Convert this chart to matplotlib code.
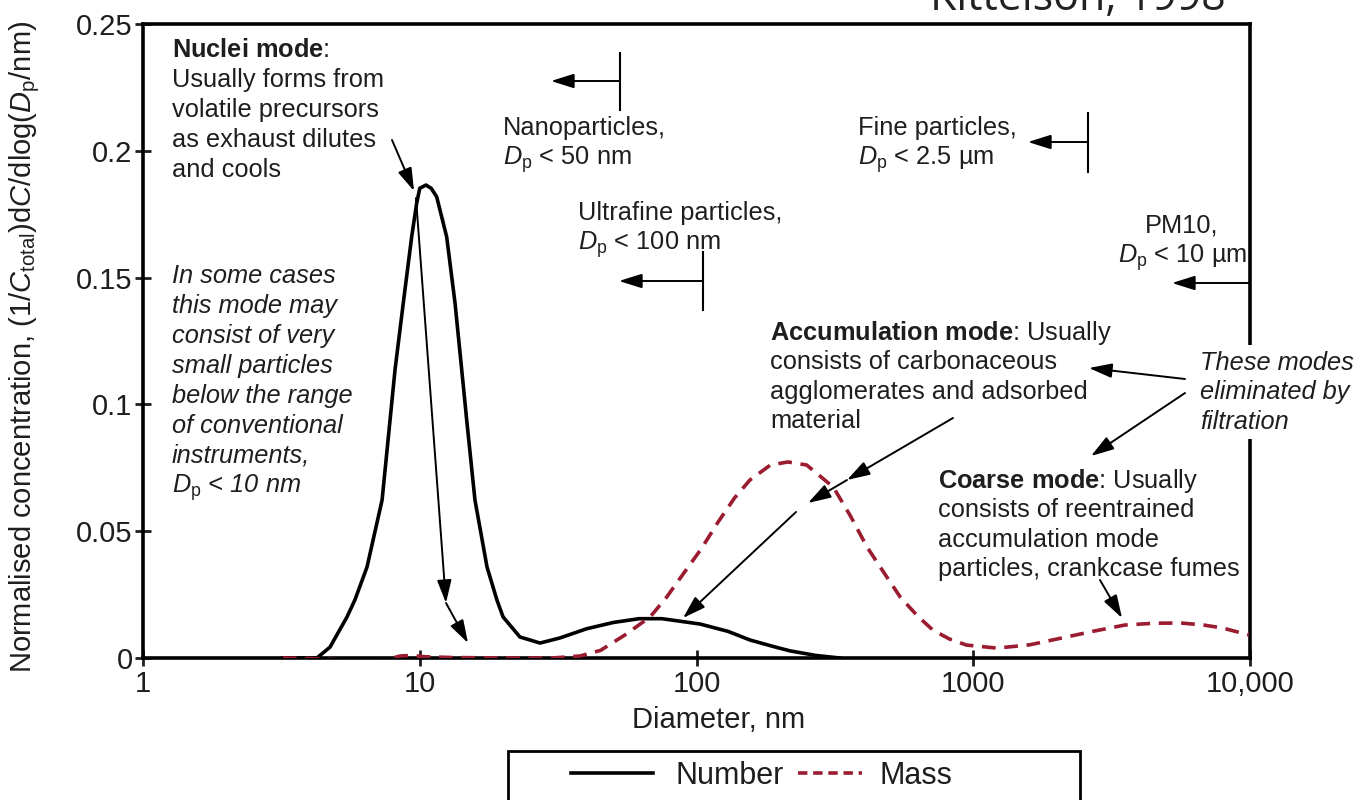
import matplotlib
matplotlib.use('Agg')
import matplotlib.pyplot as plt
from matplotlib.lines import Line2D
from matplotlib.patches import Rectangle

plt.rcParams['font.family'] = ['Liberation Sans', 'DejaVu Sans']
plt.rcParams['mathtext.fontset'] = 'custom'
plt.rcParams['mathtext.rm'] = 'Liberation Sans'
plt.rcParams['mathtext.it'] = 'Liberation Sans:italic'
plt.rcParams['mathtext.bf'] = 'Liberation Sans:bold'

# values (diameter in nm, normalised concentration)
number_d = [3.2, 4.25, 4.74, 5.46, 5.83, 6.45, 7.31, 7.81, 8.14, 8.72, 9.35, 9.75, 10.0,
            10.53, 11.0, 11.51, 12.51, 13.41, 14.18, 14.78, 15.83, 17.5, 19.0, 20.0, 23.0,
            27.2, 32.1, 40, 50, 62, 75, 103, 130, 156, 190, 218, 270, 330]
number_c = [0, 0, 0.0043, 0.0162, 0.0229, 0.0359, 0.0623, 0.0938, 0.1136, 0.1400, 0.1661,
            0.1794, 0.1852, 0.1865, 0.1852, 0.1819, 0.1661, 0.1400, 0.1136, 0.0938, 0.0623,
            0.0359, 0.0229, 0.0162, 0.0083, 0.0059, 0.0079, 0.0115, 0.014, 0.0155, 0.0155,
            0.0134, 0.0105, 0.0071, 0.0045, 0.0028, 0.001, 0.0]

mass_d = [3.2, 4.2, 5.3, 6.4, 7.6, 8.5, 9.2, 10.5, 13, 20, 30, 38, 45, 55, 68, 78, 90, 104,
          119, 137, 156, 185, 214, 250, 312, 360, 413, 480, 545, 630, 715, 820, 945, 1220,
          1600, 2090, 2700, 3530, 4500, 5630, 6800, 7980, 9900]
mass_c = [0, -0.0003, -0.0008, -0.0009, -0.0006, 0.0008, 0.001, 0.0005, 0.0002, 0, 0, 0.0008,
          0.003, 0.009, 0.0162, 0.024, 0.0335, 0.043, 0.0532, 0.063, 0.0702, 0.0761, 0.0773,
          0.0761, 0.0674, 0.056, 0.0438, 0.033, 0.024, 0.0165, 0.011, 0.0075, 0.0051, 0.0039,
          0.0052, 0.0079, 0.0105, 0.013, 0.0137, 0.0138, 0.013, 0.0118, 0.0091]

x_ticks = [1, 10, 100, 1000, 10000]
x_ticklabels = ['1', '10', '100', '1000', '10,000']
y_ticks = [0, 0.05, 0.1, 0.15, 0.2, 0.25]
y_ticklabels = ['0', '0.05', '0.1', '0.15', '0.2', '0.25']

W, H = 1366, 800
RED = '#9b1b30'
TXT = '#1e1e1e'
FS = 18.3


def fp(x, y):
    # pixel position (from top left) -> figure fraction
    return (x / W, 1 - y / H)


fig = plt.figure(figsize=(W / 100, H / 100), dpi=100)
ax = fig.add_axes([143 / W, 1 - 658 / H, 1107 / W, 634 / H])

l_num, = ax.plot(number_d, number_c, color='black', lw=2.6, zorder=3)
l_mass, = ax.plot(mass_d, mass_c, color=RED, lw=2.6, dashes=(3.8, 2.4), zorder=3)

ax.set_xscale('log')
ax.set_xlim(1, 10000)
ax.set_ylim(0, 0.25)
ax.set_xticks(x_ticks)
ax.set_xticklabels(x_ticklabels)
ax.minorticks_off()
ax.set_yticks(y_ticks)
ax.set_yticklabels(y_ticklabels)
ax.tick_params(direction='inout', length=11, width=2, labelsize=21, pad=3, colors=TXT)
ax.tick_params(axis='y', pad=2)
for s in ax.spines.values():
    s.set_linewidth(2.6)

ax.set_xlabel('Diameter, nm', fontsize=21, color=TXT)
ax.xaxis.set_label_coords((719 - 143) / 1107, -0.075)
fig.text(25 / W, 1 - 347 / H,
         'Normalised concentration, (1/$C_{\\mathrm{total}}$)d$C$/dlog($D_{\\mathrm{p}}$/nm)',
         rotation=90, ha='center', va='center', fontsize=21, color=TXT)

fig.text(*fp(1078, 10), 'Kittelson, 1998', ha='center', va='baseline', fontsize=31,
         family='Open Sans', color='#222222')


def block(x, y0, lines, step=30, **kw):
    for i, line in enumerate(lines):
        fig.text(*fp(x, y0 + step * i), line, ha='left', va='baseline', fontsize=FS,
                 color=TXT, **kw)


DP = '$D_{\\mathrm{p}}$'
block(172, 57, [r'$\mathbf{Nuclei\ mode}$:', 'Usually forms from', 'volatile precursors',
                'as exhaust dilutes', 'and cools'])
block(172, 283, ['In some cases', 'this mode may', 'consist of very', 'small particles',
                 'below the range', 'of conventional', 'instruments,', DP + ' < 10 nm'],
      style='italic')
block(503, 135, ['Nanoparticles,', DP + ' < 50 nm'])
block(578, 220, ['Ultrafine particles,', DP + ' < 100 nm'])
block(858, 135, ['Fine particles,', DP + ' < 2.5 µm'])
fig.text(*fp(1182, 233), 'PM10,', ha='center', va='baseline', fontsize=FS, color=TXT)
fig.text(*fp(1247, 263), DP + ' < 10 µm', ha='right', va='baseline', fontsize=FS, color=TXT)
block(770, 340, [r'$\mathbf{Accumulation\ mode}$: Usually', 'consists of carbonaceous',
                 'agglomerates and adsorbed', 'material'], step=29.4)
block(1200, 370, ['These modes', 'eliminated by', 'filtration'], step=29.4, style='italic',
      bbox=dict(fc='white', ec='none', pad=4))
block(938, 488, [r'$\mathbf{Coarse\ mode}$: Usually', 'consists of reentrained',
                 'accumulation mode', 'particles, crankcase fumes'], step=29.4)


def line(p0, p1, **kw):
    st = dict(color='black', lw=1.5)
    st.update(kw)
    fig.add_artist(Line2D([p0[0] / W, p1[0] / W], [1 - p0[1] / H, 1 - p1[1] / H],
                          transform=fig.transFigure, **st))


def arrow(tail, head):
    ax.annotate('', xy=fp(*head), xytext=fp(*tail), xycoords='figure fraction',
                textcoords='figure fraction',
                arrowprops=dict(arrowstyle='-|>,head_length=0.7,head_width=0.22',
                                color='black', lw=1.4, shrinkA=0, shrinkB=0,
                                mutation_scale=20), zorder=4)


# size-class brackets
line((620, 53), (620, 110))
arrow((620, 81), (551, 81))
line((703, 252), (703, 310))
arrow((703, 281), (619, 281))
line((1088, 113), (1088, 172))
arrow((1088, 142), (1028, 142))
arrow((1250, 283), (1172, 283))

# mode pointers
arrow((392, 140), (414, 191))
arrow((416, 198), (446, 603))
arrow((446, 603), (468, 643))
arrow((953, 418), (847, 480))
arrow((847, 480), (808, 503))
arrow((796, 512), (683, 618))
arrow((1185, 379), (1089, 368))
arrow((1185, 393), (1091, 456))
arrow((1100, 580), (1122, 618))

# legend box, cut by the lower edge as in the source
fig.add_artist(Rectangle((508 / W, -0.02), (1080 - 508) / W, 0.02 + (800 - 751) / H,
                         transform=fig.transFigure, fill=False, lw=2, ec='black'))
line((571, 773), (653, 773), color=l_num.get_color(), lw=l_num.get_linewidth())
fig.text(*fp(676, 773), 'Number', ha='left', va='center_baseline', fontsize=22, color=TXT)
line((798, 773), (862, 773), color=l_mass.get_color(), lw=l_mass.get_linewidth(),
     dashes=(2.6, 1.6))
fig.text(*fp(880, 773), 'Mass', ha='left', va='center_baseline', fontsize=22, color=TXT)

fig.savefig('out.png', dpi=100)
